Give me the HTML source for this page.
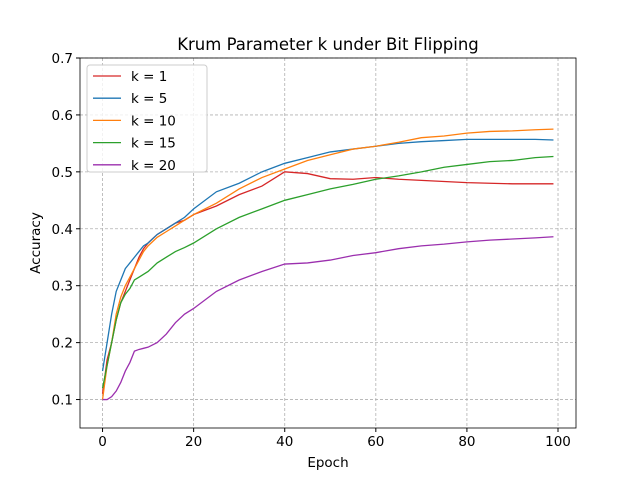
<!DOCTYPE html>
<html><head><meta charset="utf-8"><style>
html,body{margin:0;padding:0;background:#fff;}
svg{display:block;font-family:"DejaVu Sans","Liberation Sans",sans-serif;}
</style></head><body>
<svg id="chart" width="640" height="480">
<rect width="640" height="480" fill="#fff"/>
<g id="grid"></g><g id="series"></g><g id="axes"></g>
<text x="328" y="50" text-anchor="middle" font-size="16.5">Krum Parameter k under Bit Flipping</text>
<text x="328" y="467" text-anchor="middle" font-size="13.5">Epoch</text>
<text transform="translate(40,243) rotate(-90)" text-anchor="middle" font-size="13.5">Accuracy</text>
<g id="legend"></g>
</svg>
<script>
const epochs=[0,1,2,3,4,5,6,7,8,9,10,12,14,16,18,20,25,30,35,40,45,50,55,60,65,70,75,80,85,90,95,99];
const labels=["k = 1","k = 5","k = 10","k = 15","k = 20"];
const colors=["#d62728","#1f77b4","#ff7f0e","#2ca02c","#9b2fae"];
const k1=[0.11,0.17,0.2,0.24,0.27,0.29,0.31,0.33,0.35,0.365,0.375,0.39,0.4,0.41,0.415,0.425,0.44,0.46,0.475,0.5,0.497,0.488,0.487,0.49,0.487,0.485,0.483,0.481,0.48,0.479,0.479,0.479];
const k5=[0.15,0.2,0.25,0.29,0.31,0.33,0.34,0.35,0.36,0.37,0.375,0.39,0.4,0.41,0.42,0.435,0.465,0.48,0.5,0.515,0.525,0.535,0.54,0.545,0.55,0.553,0.555,0.557,0.557,0.557,0.557,0.556];
const k10=[0.1,0.16,0.2,0.25,0.28,0.3,0.315,0.33,0.345,0.36,0.37,0.385,0.395,0.405,0.415,0.425,0.445,0.47,0.49,0.505,0.52,0.53,0.54,0.545,0.552,0.56,0.563,0.568,0.571,0.572,0.574,0.575];
const k15=[0.12,0.16,0.2,0.24,0.27,0.285,0.295,0.31,0.315,0.32,0.325,0.34,0.35,0.36,0.367,0.375,0.4,0.42,0.435,0.45,0.46,0.47,0.478,0.487,0.493,0.5,0.508,0.513,0.518,0.52,0.525,0.527];
const k20=[0.1,0.1,0.105,0.115,0.13,0.15,0.165,0.185,0.188,0.19,0.192,0.2,0.215,0.235,0.25,0.26,0.29,0.31,0.325,0.338,0.34,0.345,0.353,0.358,0.365,0.37,0.373,0.377,0.38,0.382,0.384,0.386];
const xTicks=[0,20,40,60,80,100];
const yTicks=[0.1,0.2,0.3,0.4,0.5,0.6,0.7];
const L=80,R=576,T=58,B=428;
const X=v=>L+(v+4.95)/(103.95+4.95)*(R-L);
const Y=v=>B-(v-0.05)/(0.7-0.05)*(B-T);
const NS="http://www.w3.org/2000/svg";
function mk(t,a,p){const e=document.createElementNS(NS,t);for(const k in a)e.setAttribute(k,a[k]);p.appendChild(e);return e;}
const grid=document.getElementById('grid'),axes=document.getElementById('axes'),ser=document.getElementById('series'),leg=document.getElementById('legend');
xTicks.forEach(t=>{const x=X(t);
 const g=mk('line',{x1:x,x2:x,y1:T,y2:B,stroke:'#b0b0b0','stroke-dasharray':'3,2','stroke-width':0.8},grid);
 
 mk('line',{x1:x,x2:x,y1:B,y2:B+4,stroke:'#000'},axes);
 const tx=mk('text',{x:x,y:B+18,'text-anchor':'middle','font-size':13.5},axes);tx.textContent=t;
 });
yTicks.forEach(t=>{const y=Y(t);
 const g=mk('line',{x1:L,x2:R,y1:y,y2:y,stroke:'#b0b0b0','stroke-dasharray':'3,2','stroke-width':0.8},grid);
 
 mk('line',{x1:L-4,x2:L,y1:y,y2:y,stroke:'#000'},axes);
 const tx=mk('text',{x:L-7,y:y+5,'text-anchor':'end','font-size':13.5},axes);tx.textContent=t.toFixed(1);
 });
const frame=mk('rect',{x:L,y:T,width:R-L,height:B-T,fill:'none',stroke:'#000','stroke-width':0.8},axes);

[k1,k5,k10,k15,k20].forEach((s,i)=>{
 const p=mk('polyline',{points:s.map((v,j)=>X(epochs[j])+','+Y(v)).join(' '),fill:'none',stroke:colors[i],'stroke-width':1.3},ser);
 
 
});
const box=mk('rect',{x:87,y:65,width:120,height:107,rx:3,fill:'#fff','fill-opacity':0.8,stroke:'#ccc'},leg);

labels.forEach((lb,i)=>{const y=76+i*22.2;
 const ln=mk('line',{x1:93,x2:121,y1:y,y2:y,stroke:colors[i],'stroke-width':1.3},leg);
 
 const tx=mk('text',{x:131,y:y+5,'font-size':13.5},leg);tx.textContent=lb;
 });
</script>
</body></html>
